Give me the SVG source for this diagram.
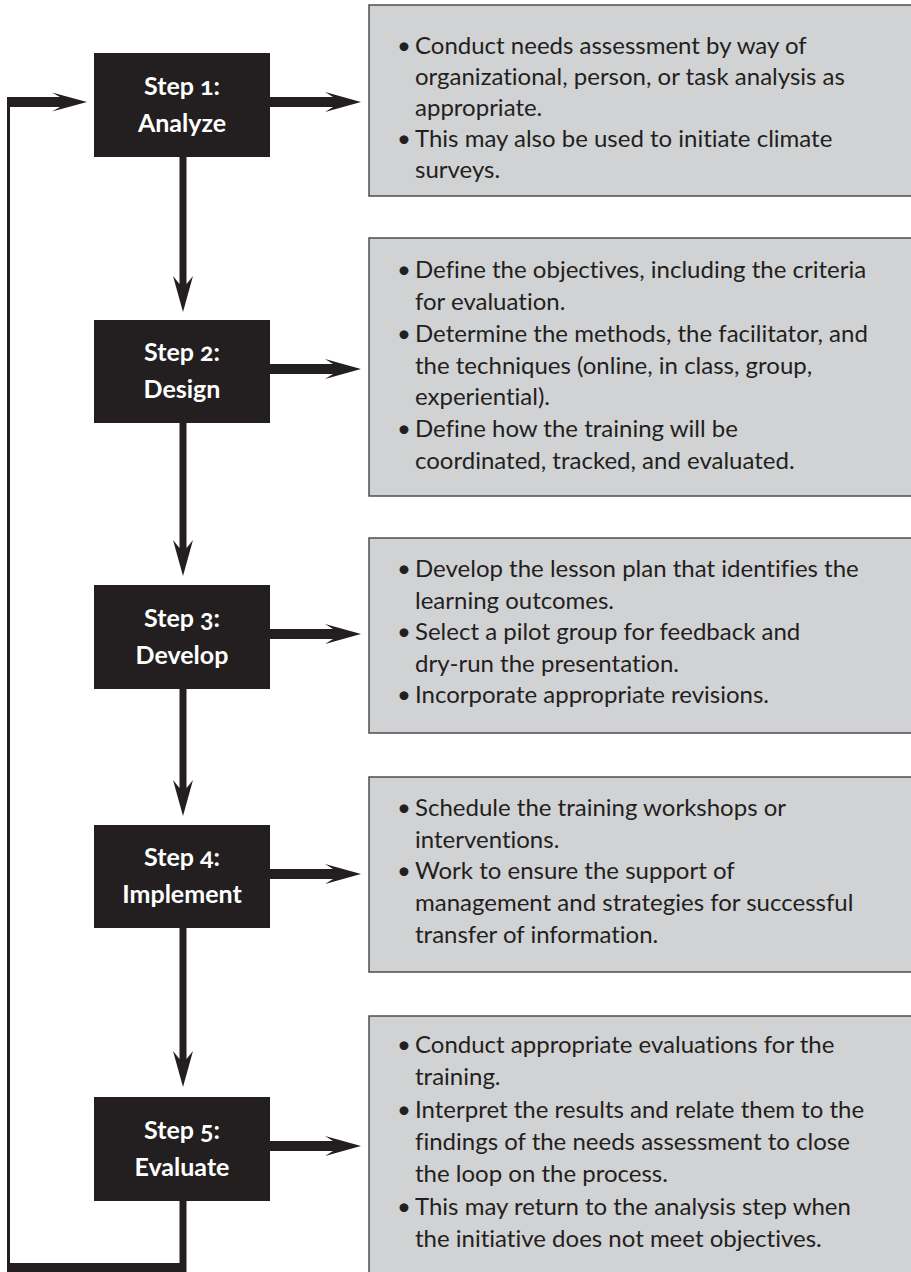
<svg xmlns="http://www.w3.org/2000/svg" width="911" height="1272" viewBox="0 0 911 1272">
<style>
.step{fill:#231f20}
.stxt{fill:#ffffff;font-family:Lato,"Open Sans",sans-serif;font-weight:bold;font-size:25px;text-anchor:middle;font-variant-numeric:oldstyle-nums;font-variant-ligatures:none}
.box{fill:#d1d2d4;stroke:#4d4d4f;stroke-width:1.5}
.btxt{fill:#231f20;font-family:Lato,"Open Sans",sans-serif;font-size:24px;font-variant-ligatures:none}
.conn{fill:#231f20}
</style>
<rect width="911" height="1272" fill="#ffffff"/>
<g id="connectors" class="conn">
  <path d="M270,97 H333 L325,92 L361,102 L325,112 L333,107 H270 Z"/>
  <path d="M270,364 H333 L325,359 L361,369 L325,379 L333,374 H270 Z"/>
  <path d="M270,629 H333 L325,624 L361,634 L325,644 L333,639 H270 Z"/>
  <path d="M270,869 H333 L325,864 L361,874 L325,884 L333,879 H270 Z"/>
  <path d="M270,1141 H333 L325,1136 L361,1146 L325,1156 L333,1151 H270 Z"/>
  <path d="M179.5,157 V284 L173,276 L183,312 L193,276 L186.5,284 V157 Z"/>
  <path d="M179.5,423 V548 L173,540 L183,576 L193,540 L186.5,548 V423 Z"/>
  <path d="M179.5,689 V788 L173,780 L183,816 L193,780 L186.5,788 V689 Z"/>
  <path d="M179.5,928 V1059 L173,1051 L183,1087 L193,1051 L186.5,1059 V928 Z"/>
  <path d="M179.5,1201 H186.5 V1272 H7 V97 H60 L52,92.5 L87,102 L52,111.5 L60,107 H10 V1263 H179.5 Z"/>
</g>
<g id="step1">
  <rect class="step" x="94" y="53" width="176" height="104"/>
  <text class="stxt" x="182" y="95">Step 1:</text>
  <text class="stxt" x="182" y="132">Analyze</text>
</g>
<g id="step2">
  <rect class="step" x="94" y="320" width="176" height="103"/>
  <text class="stxt" x="182" y="361">Step 2:</text>
  <text class="stxt" x="182" y="398">Design</text>
</g>
<g id="step3">
  <rect class="step" x="94" y="585" width="176" height="104"/>
  <text class="stxt" x="182" y="627">Step 3:</text>
  <text class="stxt" x="182" y="664">Develop</text>
</g>
<g id="step4">
  <rect class="step" x="94" y="825" width="176" height="103"/>
  <text class="stxt" x="182" y="866">Step 4:</text>
  <text class="stxt" x="182" y="903">Implement</text>
</g>
<g id="step5">
  <rect class="step" x="94" y="1097" width="176" height="104"/>
  <text class="stxt" x="182" y="1139">Step 5:</text>
  <text class="stxt" x="182" y="1176">Evaluate</text>
</g>
<g id="desc1">
  <rect class="box" x="369" y="5" width="550" height="191"/>
  <text class="btxt">
    <tspan x="397" y="54">•</tspan><tspan x="415" y="54">Conduct needs assessment by way of</tspan>
    <tspan x="415" y="85">organizational, person, or task analysis as</tspan>
    <tspan x="415" y="116">appropriate.</tspan>
    <tspan x="397" y="147">•</tspan><tspan x="415" y="147">This may also be used to initiate climate</tspan>
    <tspan x="415" y="178">surveys.</tspan>
  </text>
</g>
<g id="desc2">
  <rect class="box" x="369" y="238" width="550" height="258"/>
  <text class="btxt">
    <tspan x="397" y="278">•</tspan><tspan x="415" y="278">Define the objectives, including the criteria</tspan>
    <tspan x="415" y="310">for evaluation.</tspan>
    <tspan x="397" y="341.5">•</tspan><tspan x="415" y="341.5">Determine the methods, the facilitator, and</tspan>
    <tspan x="415" y="373.5">the techniques (online, in class, group,</tspan>
    <tspan x="415" y="405">experiential).</tspan>
    <tspan x="397" y="437">•</tspan><tspan x="415" y="437">Define how the training will be</tspan>
    <tspan x="415" y="469">coordinated, tracked, and evaluated.</tspan>
  </text>
</g>
<g id="desc3">
  <rect class="box" x="369" y="538" width="550" height="195"/>
  <text class="btxt">
    <tspan x="397" y="577">•</tspan><tspan x="415" y="577">Develop the lesson plan that identifies the</tspan>
    <tspan x="415" y="608.5">learning outcomes.</tspan>
    <tspan x="397" y="640">•</tspan><tspan x="415" y="640">Select a pilot group for feedback and</tspan>
    <tspan x="415" y="671.5">dry-run the presentation.</tspan>
    <tspan x="397" y="703">•</tspan><tspan x="415" y="703">Incorporate appropriate revisions.</tspan>
  </text>
</g>
<g id="desc4">
  <rect class="box" x="369" y="777" width="550" height="195"/>
  <text class="btxt">
    <tspan x="397" y="816">•</tspan><tspan x="415" y="816">Schedule the training workshops or</tspan>
    <tspan x="415" y="847.5">interventions.</tspan>
    <tspan x="397" y="879">•</tspan><tspan x="415" y="879">Work to ensure the support of</tspan>
    <tspan x="415" y="911">management and strategies for successful</tspan>
    <tspan x="415" y="942.5">transfer of information.</tspan>
  </text>
</g>
<g id="desc5">
  <rect class="box" x="369" y="1016" width="550" height="270"/>
  <text class="btxt">
    <tspan x="397" y="1053">•</tspan><tspan x="415" y="1053">Conduct appropriate evaluations for the</tspan>
    <tspan x="415" y="1085">training.</tspan>
    <tspan x="397" y="1118">•</tspan><tspan x="415" y="1118">Interpret the results and relate them to the</tspan>
    <tspan x="415" y="1150">findings of the needs assessment to close</tspan>
    <tspan x="415" y="1182">the loop on the process.</tspan>
    <tspan x="397" y="1215">•</tspan><tspan x="415" y="1215">This may return to the analysis step when</tspan>
    <tspan x="415" y="1247">the initiative does not meet objectives.</tspan>
  </text>
</g>
</svg>
